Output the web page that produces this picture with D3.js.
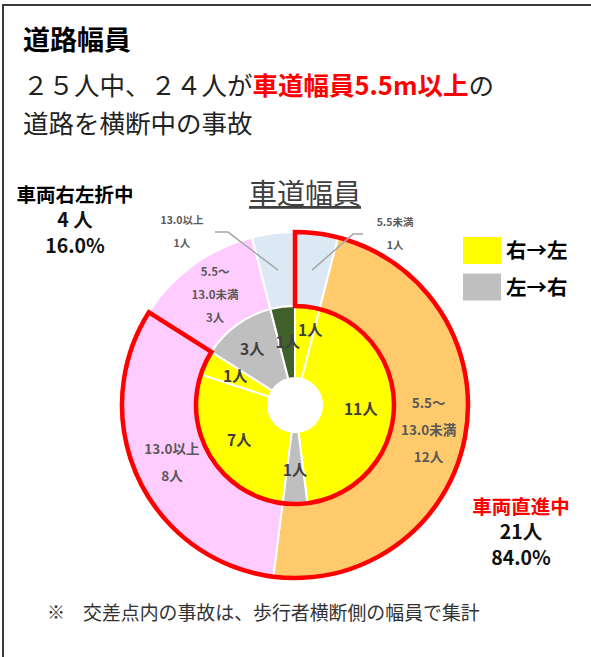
<!DOCTYPE html>
<html lang="ja">
<head>
<meta charset="utf-8">
<title>道路幅員</title>
<script src="https://cdnjs.cloudflare.com/ajax/libs/d3/7.8.5/d3.min.js"></script>
<style>
  body { margin: 0; background: #fff; }
  svg { display: block; font-family: "Noto Sans CJK JP", sans-serif; }
</style>
</head>
<body>
<svg id="chart"></svg>
<script>
// inner ring: crossing direction of the pedestrian
var innerValues = [1, 11, 1, 7, 1, 3, 1];
var innerDirs = ["右→左", "右→左", "左→右", "右→左", "右→左", "左→右", "不明"];

// outer ring: road width
var outerLabels = [["5.5未満"], ["5.5～", "13.0未満"], ["13.0以上"], ["5.5～", "13.0未満"], ["13.0以上"]];
var outerValues = [1, 12, 8, 3, 1];
var outerGroups = ["直進", "直進", "直進", "右左折", "右左折"];

var legendItems = ["右→左", "左→右"];
var groupNames = { "直進": "車両直進中", "右左折": "車両右左折中" };

var w = 591, h = 657;
var cx = 295, cy = 405;
var rHole = 27, rMid = 99, rOut = 173;

var dirColor = { "右→左": "#ffff00", "左→右": "#bfbfbf", "不明": "#41612c" };
var outerColors = ["#dde8f5", "#ffca6b", "#ffccff", "#ffccff", "#dde8f5"];
var outerFont = [10.5, 13.5, 13.5, 11.5, 10.5];
// nudges for crowded inner labels
var innerNudge = [[7, -9], [0, 0], [0, 0], [0, 0], [0, 0], [-4, -2], [1, 3]];
// leader lines for the thin outer slices
var leader = { 0: { ex: 41, ey: -36, len: 10, lx: 32 }, 4: { ex: -50, ey: -38, len: 13, lx: -33 } };

var svg = d3.select("#chart").attr("width", w).attr("height", h);

// frame
svg.append("rect")
  .attr("x", 3).attr("y", 5)
  .attr("width", w + 10).attr("height", h + 10)
  .attr("fill", "none").attr("stroke", "#3a3a3a").attr("stroke-width", 2);

// headings
svg.append("text")
  .attr("x", 23).attr("y", 50)
  .attr("font-size", 27).attr("font-weight", "bold")
  .text("道路幅員");

var line2 = svg.append("text").attr("x", 23).attr("y", 95).attr("font-size", 25.5).attr("fill", "#222");
line2.append("tspan").text("２５人中、２４人が");
line2.append("tspan").attr("fill", "#ff0000").attr("font-weight", "bold").text("車道幅員5.5m以上");
line2.append("tspan").text("の");

svg.append("text")
  .attr("x", 23).attr("y", 133)
  .attr("font-size", 25.5).attr("fill", "#222")
  .text("道路を横断中の事故");

// chart title
svg.append("text")
  .attr("x", cx + 10).attr("y", 204)
  .attr("text-anchor", "middle")
  .attr("font-size", 28).attr("fill", "#404040")
  .attr("text-decoration", "underline")
  .text("車道幅員");

var g = svg.append("g").attr("transform", "translate(" + cx + "," + cy + ")");

var pie = d3.pie().sort(null).value(function(d) { return d; });
var innerArcs = pie(innerValues);
var outerArcs = pie(outerValues);

var arcIn = d3.arc().innerRadius(rHole).outerRadius(rMid);
var arcOut = d3.arc().innerRadius(rMid).outerRadius(rOut);
var labelIn = d3.arc().innerRadius(35).outerRadius(97);

g.selectAll(".outer").data(outerArcs).enter().append("path")
  .attr("class", "outer")
  .attr("d", arcOut)
  .attr("fill", function(d, i) { return outerColors[i]; })
  .attr("stroke", "#fff").attr("stroke-width", 2);

g.selectAll(".inner").data(innerArcs).enter().append("path")
  .attr("class", "inner")
  .attr("d", arcIn)
  .attr("fill", function(d, i) { return dirColor[innerDirs[i]]; })
  .attr("stroke", "#fff").attr("stroke-width", 2);

// red outline around the "going straight" part
var straightEnd = d3.max(outerArcs.filter(function(d, i) { return outerGroups[i] === "直進"; }), function(d) { return d.endAngle; });
g.append("path")
  .attr("d", d3.arc().innerRadius(rMid).outerRadius(rOut).startAngle(0).endAngle(straightEnd)())
  .attr("fill", "none").attr("stroke", "#ff0000").attr("stroke-width", 4.5)
  .attr("stroke-linejoin", "miter");

// inner labels
g.selectAll(".inlab").data(innerArcs).enter().append("text")
  .attr("class", "inlab")
  .attr("transform", function(d, i) {
    var c = labelIn.centroid(d);
    return "translate(" + (c[0] + innerNudge[i][0]) + "," + (c[1] + innerNudge[i][1]) + ")";
  })
  .attr("text-anchor", "middle").attr("dy", "0.35em")
  .attr("font-size", 15.5).attr("font-weight", "bold").attr("fill", "#404040")
  .text(function(d) { return d.data + "人"; });

// outer labels
outerArcs.forEach(function(d, i) {
  var lines = outerLabels[i].concat([d.data + "人"]);
  var c = arcOut.centroid(d);
  var fs = outerFont[i];
  var gap = fs * 2.0;
  var x = c[0], y = c[1] - (lines.length - 1) * gap / 2;
  var L = leader[i];
  if (L) {
    // thin slices get a leader line and a label outside the ring
    var elbow = [c[0] + L.ex, c[1] + L.ey];
    var end = [elbow[0] + (L.ex > 0 ? L.len : -L.len), elbow[1]];
    g.append("polyline")
      .attr("points", [c, elbow, end].map(function(p) { return p.join(","); }).join(" "))
      .attr("fill", "none").attr("stroke", "#a6a6a6").attr("stroke-width", 1.5);
    x = end[0] + L.lx;
    y = end[1] - 11.5;
    gap = 23;
  }
  lines.forEach(function(s, k) {
    g.append("text")
      .attr("x", x).attr("y", y + k * gap)
      .attr("text-anchor", "middle").attr("dy", "0.35em")
      .attr("font-size", fs).attr("font-weight", "bold").attr("fill", "#595959")
      .text(s);
  });
});

// legend
legendItems.forEach(function(name, i) {
  svg.append("rect")
    .attr("x", 463).attr("y", 237 + i * 36.5)
    .attr("width", 38).attr("height", 27)
    .attr("fill", dirColor[name]);
  svg.append("text")
    .attr("x", 506).attr("y", 251 + i * 36.5)
    .attr("dy", "0.35em")
    .attr("font-size", 20.5).attr("font-weight", "bold")
    .text(name);
});

// group summaries
var total = d3.sum(outerValues);
function groupSum(k) {
  return d3.sum(outerValues.filter(function(v, i) { return outerGroups[i] === k; }));
}
var summaries = [
  { key: "右左折", x: 75, y: 195, color: "#000" },
  { key: "直進", x: 521, y: 507, color: "#ff0000" }
];
summaries.forEach(function(s) {
  var n = groupSum(s.key);
  var rows = [groupNames[s.key], n + (n < 10 ? " 人" : "人"), (n / total * 100).toFixed(1) + "%"];
  rows.forEach(function(r, k) {
    svg.append("text")
      .attr("x", s.x).attr("y", s.y + k * 25.5)
      .attr("text-anchor", "middle").attr("dy", "0.35em")
      .attr("font-size", 19.5).attr("font-weight", "bold")
      .attr("fill", k === 0 ? s.color : "#111")
      .text(r);
  });
});

// note
svg.append("text")
  .attr("x", 47).attr("y", 613).attr("dy", "0.35em")
  .attr("font-size", 18).attr("fill", "#333")
  .text("※");
svg.append("text")
  .attr("x", 83).attr("y", 613).attr("dy", "0.35em")
  .attr("font-size", 18.9).attr("fill", "#333")
  .text("交差点内の事故は、歩行者横断側の幅員で集計");
</script>
</body>
</html>
